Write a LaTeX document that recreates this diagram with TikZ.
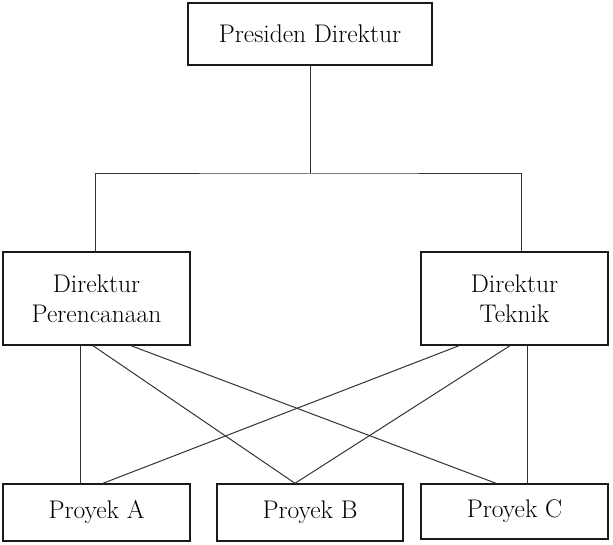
\documentclass[tikz,border=0pt]{standalone}
\usepackage{tikz}
\usetikzlibrary{positioning}
\definecolor{BoxLine}{HTML}{1A1A1A}
\definecolor{LinkLine}{HTML}{333333}
\tikzset{
  orgbox/.style={draw=BoxLine,line width=1.4pt,align=center,inner sep=0pt,
    font=\fontsize{25.5}{30}\selectfont},
  link/.style={LinkLine,line width=1pt}
}

\begin{document}
\begin{tikzpicture}[x=1pt,y=-1pt]
      \useasboundingbox (0,0) rectangle (613,545);
      % pimpinan
      \node[orgbox,minimum width=244pt,minimum height=62pt] (pd) at (310,34) {Presiden Direktur};
      \node[orgbox,minimum width=187pt,minimum height=93pt] (dp) at (96.5,298.5) {Direktur\\Perencanaan};
      \node[orgbox,minimum width=187pt,minimum height=93pt] (dt) at (514.5,298.5) {Direktur\\Teknik};
      % proyek
      \node[orgbox,minimum width=187pt,minimum height=57pt] (pa) at (96.5,512.5) {Proyek A};
      \node[orgbox,minimum width=186pt,minimum height=57pt] (pb) at (310,512.5) {Proyek B};
      \node[orgbox,minimum width=187pt,minimum height=55pt] (pc) at (514.5,511.5) {Proyek C};
      \coordinate (bus) at (pd.south |- 0,174);
      \draw[link] (pd.south) -- (bus);
      \draw[link] ([xshift=-1.5pt]dp.north) |- (bus) -| ([xshift=6.5pt]dt.north);
      % garis proyek
      \draw[link] ([xshift=-16.5pt]dp.south) -- ([xshift=-16.5pt]pa.north);
      \draw[link] ([xshift=-3.5pt]dp.south) -- ([xshift=-15pt]pb.north);
      \draw[link] ([xshift=34.5pt]dp.south) -- ([xshift=-18.5pt]pc.north);
      \draw[link] ([xshift=-55.5pt]dt.south) -- ([xshift=6.5pt]pa.north);
      \draw[link] ([xshift=-4.5pt]dt.south) -- ([xshift=-15pt]pb.north);
      \draw[link] ([xshift=12.5pt]dt.south) -- ([xshift=12.5pt]pc.north);
\end{tikzpicture}
\end{document}
